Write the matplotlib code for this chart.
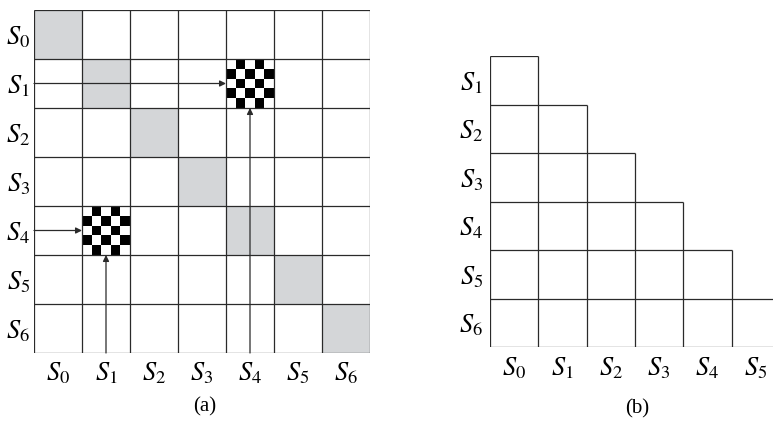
import matplotlib
matplotlib.use("Agg")
import matplotlib.pyplot as plt
from matplotlib.patches import Rectangle
import numpy as np

plt.rcParams['mathtext.fontset'] = 'stix'
plt.rcParams['font.family'] = ['Liberation Serif', 'DejaVu Serif']

# ---- data ----
states_a = ["S_0", "S_1", "S_2", "S_3", "S_4", "S_5", "S_6"]
grey_cells = [(0, 0), (1, 1), (2, 2), (3, 3), (4, 4), (5, 5), (6, 6)]   # (row, col)
checker_cells = [(1, 4), (4, 1)]                                         # (row, col)
rows_b = ["S_1", "S_2", "S_3", "S_4", "S_5", "S_6"]
cols_b = ["S_0", "S_1", "S_2", "S_3", "S_4", "S_5"]
checker_n = 5

W, H = 773, 426
fig = plt.figure(figsize=(W / 100, H / 100), dpi=100)
fig.patch.set_facecolor("white")

LC = "#2a2a2a"
LW = 0.9
FS = 19

def fig_rect(x0, y0, x1, y1):
    return [x0 / W, 1 - y1 / H, (x1 - x0) / W, (y1 - y0) / H]

# ---------------- panel (a) ----------------
n = len(states_a)
axa = fig.add_axes(fig_rect(34, 10, 370, 353))
axa.set_xlim(0, n)
axa.set_ylim(n, 0)
for s in axa.spines.values():
    s.set_visible(False)
axa.set_xticks(np.arange(n) + 0.5)
axa.set_xticklabels([f"${s}$" for s in states_a], fontsize=FS)
axa.set_yticks(np.arange(n) + 0.5)
axa.set_yticklabels([f"${s}$" for s in states_a], fontsize=FS)
axa.tick_params(length=0, pad=5)
axa.tick_params(axis='y', pad=3)

for r, c in grey_cells:
    axa.add_patch(Rectangle((c, r), 1, 1, facecolor="#d4d6d8", edgecolor="none", zorder=1))

for r, c in checker_cells:
    d = 1.0 / checker_n
    for i in range(checker_n):
        for j in range(checker_n):
            if (i + j) % 2 == 1:
                axa.add_patch(Rectangle((c + j * d, r + i * d), d, d,
                                        facecolor="black", edgecolor="none", zorder=2))

for k in range(n + 1):
    axa.plot([0, n], [k, k], color=LC, lw=LW, zorder=3, solid_capstyle="butt")
    axa.plot([k, k], [0, n], color=LC, lw=LW, zorder=3, solid_capstyle="butt")

# arrows pointing to the checkered cells
for r, c in checker_cells:
    axa.annotate("", xy=(c, r + 0.5), xytext=(0, r + 0.5),
                 arrowprops=dict(arrowstyle="-|>", color=LC, lw=LW,
                                 mutation_scale=9, shrinkA=0, shrinkB=0), zorder=5)
    axa.annotate("", xy=(c + 0.5, r + 1), xytext=(c + 0.5, n),
                 arrowprops=dict(arrowstyle="-|>", color=LC, lw=LW,
                                 mutation_scale=9, shrinkA=0, shrinkB=0), zorder=5)

fig.text(205 / W, 1 - 407 / H, "(a)", ha="center", va="center", fontsize=15,
         family=['Liberation Serif'])

# ---------------- panel (b) ----------------
nr, nc = len(rows_b), len(cols_b)
cw = 48.3
axb = fig.add_axes(fig_rect(490, 56, 490 + nc * cw, 347))
axb.set_xlim(0, nc)
axb.set_ylim(nr, 0)
for s in axb.spines.values():
    s.set_visible(False)
axb.set_xticks(np.arange(nc) + 0.5)
axb.set_xticklabels([f"${s}$" for s in cols_b], fontsize=FS)
axb.set_yticks(np.arange(nr) + 0.5)
axb.set_yticklabels([f"${s}$" for s in rows_b], fontsize=FS)
axb.tick_params(length=0, pad=6)
axb.tick_params(axis='y', pad=5)

# staircase grid: horizontal line at top of row i spans i+1 cells
for i in range(nr):
    axb.plot([0, i + 1], [i, i], color=LC, lw=LW, solid_capstyle="butt")
axb.plot([0, nc], [nr, nr], color=LC, lw=LW, solid_capstyle="butt")
# vertical line k runs from top of row k-1 (or 0) down to bottom
for k in range(nc + 1):
    top = max(k - 1, 0)
    axb.plot([k, k], [top, nr], color=LC, lw=LW, solid_capstyle="butt")

fig.text(637 / W, 1 - 409 / H, "(b)", ha="center", va="center", fontsize=15,
         family=['Liberation Serif'])

fig.savefig("out.png", dpi=100, facecolor="white")
